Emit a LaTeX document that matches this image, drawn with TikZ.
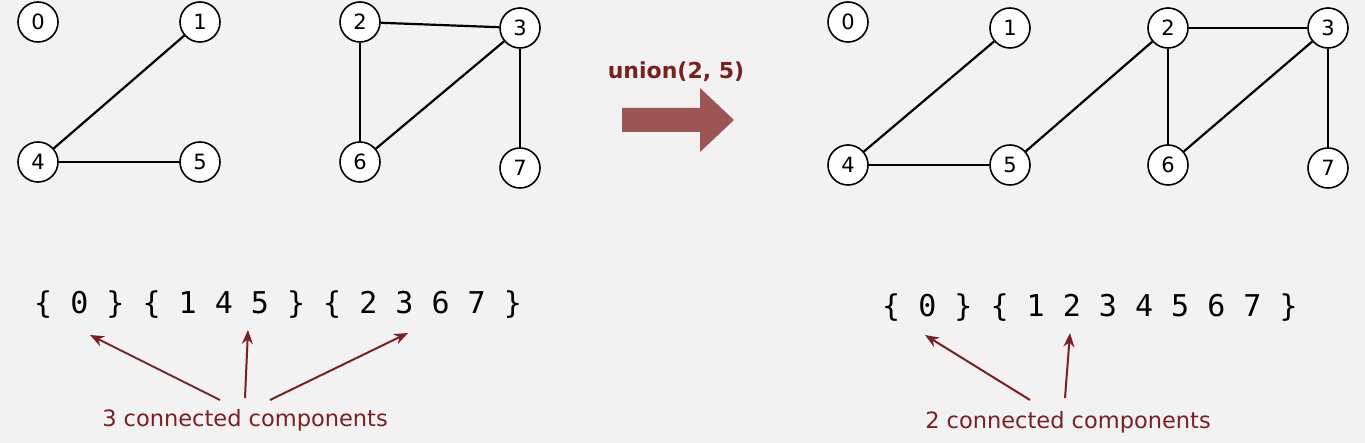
\documentclass[tikz,border=0pt]{standalone}
\usepackage{fontspec}
\setmainfont{DejaVu Sans}
\newfontfamily\monof{DejaVu Sans Mono}
\usetikzlibrary{arrows.meta}
\definecolor{dred}{RGB}{122,32,32}
\definecolor{bred}{RGB}{155,85,85}
\definecolor{bg}{RGB}{242,242,242}
\begin{document}
\begin{tikzpicture}[x=1pt,y=-1pt,
  v/.style={circle,draw,line width=1.6pt,fill=white,minimum size=40pt,inner sep=0pt,font=\fontsize{21}{21}\selectfont},
  e/.style={line width=2.2pt},
  ann/.style={dred,line width=2pt,-{Stealth[length=14pt,width=11pt]}}]
\fill[bg] (0,0) rectangle (1365,443);
\useasboundingbox (0,0) rectangle (1365,443);
% left
\node[v] (a0) at (38,22) {0};
\node[v] (a1) at (200,22) {1};
\node[v] (a4) at (38,162) {4};
\node[v] (a5) at (200,162) {5};
\node[v] (a2) at (360,22) {2};
\node[v] (a3) at (520,28) {3};
\node[v] (a6) at (360,162) {6};
\node[v] (a7) at (520,168) {7};
\draw[e] (a1)--(a4); \draw[e] (a4)--(a5); \draw[e] (a2)--(a3);
\draw[e] (a2)--(a6); \draw[e] (a3)--(a6); \draw[e] (a3)--(a7);
% right
\node[v] (b0) at (848,22) {0};
\node[v] (b1) at (1010,28) {1};
\node[v] (b4) at (848,165) {4};
\node[v] (b5) at (1010,165) {5};
\node[v] (b2) at (1168,28) {2};
\node[v] (b3) at (1328,28) {3};
\node[v] (b6) at (1168,165) {6};
\node[v] (b7) at (1328,168) {7};
\draw[e] (b1)--(b4); \draw[e] (b4)--(b5); \draw[e] (b5)--(b2); \draw[e] (b2)--(b3);
\draw[e] (b2)--(b6); \draw[e] (b3)--(b6); \draw[e] (b3)--(b7);
% union arrow
\node[dred,font=\bfseries\fontsize{22}{22}\selectfont] (u) at (676,72) {union(2, 5)};
\fill[bred] (622,108) -- (700,108) -- (700,88) -- (734,120) -- (700,152) -- (700,132) -- (622,132) -- cycle;
% sets
\node[font=\monof\fontsize{30}{30}\selectfont,anchor=west,inner sep=0pt] (s1) at (34,305) {\{ 0 \} \{ 1 4 5 \} \{ 2 3 6 7 \}};
\node[font=\monof\fontsize{30}{30}\selectfont,anchor=west,inner sep=0pt] (s2) at (882,308) {\{ 0 \} \{ 1 2 3 4 5 6 7 \}};
\node[dred,font=\fontsize{22.5}{22.5}\selectfont] (l1) at (245,420) {3 connected components};
\node[dred,font=\fontsize{22.5}{22.5}\selectfont] (l2) at (1068,422) {2 connected components};
\coordinate (t1) at (90,335); \coordinate (t2) at (248,330); \coordinate (t3) at (408,333);
\coordinate (t4) at (925,335); \coordinate (t5) at (1070,333);
\draw[ann] (220,400) -- (t1);
\draw[ann] (245,398) -- (t2);
\draw[ann] (270,400) -- (t3);
\draw[ann] (1030,400) -- (t4);
\draw[ann] (1065,398) -- (t5);
\end{tikzpicture}
\end{document}
